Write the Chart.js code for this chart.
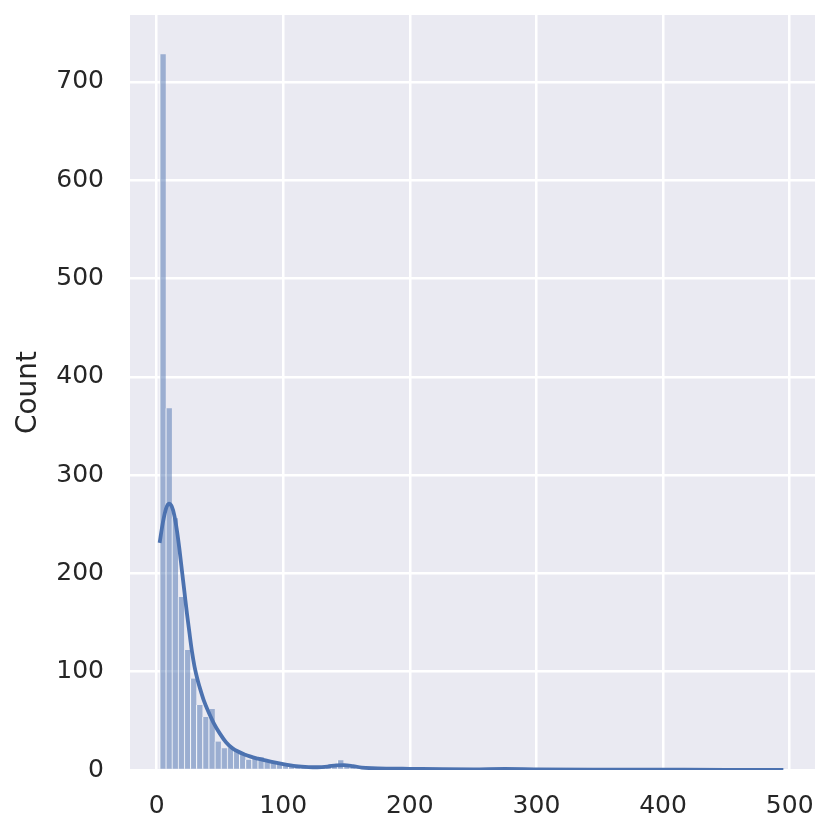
<!DOCTYPE html>
<html>
<head>
<meta charset="utf-8">
<script src="https://cdn.jsdelivr.net/npm/chart.js@4"></script>
<style>
  html, body { margin: 0; padding: 0; background: #fff; }
  #wrap { width: 831px; height: 836px; }
</style>
</head>
<body>
<div id="wrap"><canvas id="histChart" width="831" height="836"></canvas></div>
<script>
// histogram bins
const binStart = 2.4;
const binWidth = 4.84;
const counts = [
  728, 368, 256, 176, 122, 93, 66, 54, 62, 29,
  22, 23, 20, 16, 10.5, 13, 13, 10, 9, 7,
  6, 5, 5, 4, 4, 3, 3, 4, 4, 10,
  5, 3, 2, 2, 1, 2, 1, 1, 2, 1,
  1, 1, 0, 1, 1, 0, 1, 0, 1, 0,
  1, 0, 1, 1, 2, 2, 1, 1, 0, 1,
  0, 1, 0, 0, 1, 0, 0, 1, 0, 0,
  0, 1, 0, 0, 0, 1, 0, 0, 0, 0,
  1, 0, 0, 0, 0, 0, 1, 0, 0, 0,
  0, 1, 0, 0, 0, 0, 0, 0, 1, 0,
  0, 1
];

// kde curve, in count units
const kdeX = [2.4, 5, 7.5, 9.7, 12, 14, 16, 18, 20, 22, 24, 26, 28, 30, 32.5, 35, 37.5, 40,
  45, 50, 55, 60, 70, 80, 90, 100, 110, 120, 127, 135, 142, 148, 155, 162, 170, 185,
  200, 225, 250, 275, 300, 350, 400, 450, 495];
const kdeY = [231, 252, 266, 271, 268, 259, 244, 225, 203, 181, 159, 139, 120, 105, 91, 80, 70, 62,
  48, 37, 28, 22, 15.5, 11.5, 8.5, 6, 4, 3, 2.8, 3.5, 4.8, 5, 4, 2.5, 1.8, 1.4,
  1.2, 0.8, 0.7, 1.1, 0.7, 0.4, 0.3, 0.2, 0.1];

const xTicks = [0, 100, 200, 300, 400, 500];
const yTicks = [0, 100, 200, 300, 400, 500, 600, 700];

const barData = counts.map((c, i) => ({ x: binStart + binWidth * (i + 0.5), y: c }));
const kdeData = kdeX.map((x, i) => ({ x: x, y: kdeY[i] }));

const plotBg = {
  id: 'plotBg',
  beforeDraw(chart) {
    const a = chart.chartArea;
    const c = chart.ctx;
    c.save();
    c.fillStyle = '#eaeaf2';
    c.fillRect(a.left, a.top, a.right - a.left, a.bottom - a.top);
    c.restore();
  }
};

const font = { family: 'DejaVu Sans', size: 25 };

new Chart(document.getElementById('histChart').getContext('2d'), {
  type: 'bar',
  data: {
    datasets: [
      {
        type: 'line',
        data: kdeData,
        borderColor: '#4c72b0',
        borderWidth: 3.8,
        pointRadius: 0,
        cubicInterpolationMode: 'monotone',
        order: 0
      },
      {
        type: 'bar',
        data: barData,
        backgroundColor: 'rgba(76, 114, 176, 0.5)',
        borderColor: 'rgba(255, 255, 255, 0.8)',
        borderWidth: { left: 1, right: 0, top: 0, bottom: 0 },
        borderSkipped: false,
        barPercentage: 1,
        categoryPercentage: 1,
        order: 1
      }
    ]
  },
  options: {
    responsive: false,
    animation: false,
    layout: { padding: { left: 0, right: 16, top: 15, bottom: 0 } },
    plugins: { legend: { display: false }, tooltip: { enabled: false } },
    scales: {
      x: {
        type: 'linear',
        offset: false,
        min: -21,
        max: 520,
        afterBuildTicks(s) { s.ticks = xTicks.map(v => ({ value: v })); },
        afterFit(s) { s.height = 66; s.paddingLeft = 0; s.paddingRight = 0; },
        grid: { color: '#ffffff', lineWidth: 2.5, drawTicks: false, offset: false },
        border: { display: false },
        ticks: { color: '#262626', font: font, padding: 21 }
      },
      y: {
        min: 0,
        max: 768,
        afterBuildTicks(s) { s.ticks = yTicks.map(v => ({ value: v })); },
        afterFit(s) { s.width = 130; s.paddingTop = 0; s.paddingBottom = 0; },
        grid: { color: '#ffffff', lineWidth: 2.5, drawTicks: false },
        border: { display: false },
        ticks: { color: '#262626', font: font, padding: 26 },
        title: { display: true, text: 'Count', color: '#262626', font: { family: 'DejaVu Sans', size: 28 }, padding: { top: 12, bottom: 0 } }
      }
    }
  },
  plugins: [plotBg]
});
</script>
</body>
</html>
